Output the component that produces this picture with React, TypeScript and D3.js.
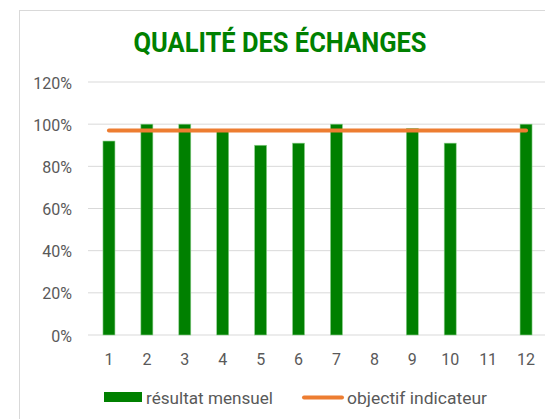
import React from "react";
import * as d3 from "d3";

const months = ["1", "2", "3", "4", "5", "6", "7", "8", "9", "10", "11", "12"];
const monthly: (number | null)[] = [0.92, 1.0, 1.0, 0.97, 0.9, 0.91, 1.0, null, 0.98, 0.91, null, 1.0];
const target: number[] = [0.97, 0.97, 0.97, 0.97, 0.97, 0.97, 0.97, 0.97, 0.97, 0.97, 0.97, 0.97];
const yTicks = [0, 0.2, 0.4, 0.6, 0.8, 1.0, 1.2];
const title = "QUALITÉ DES ÉCHANGES";
const seriesNames = ["résultat mensuel", "objectif indicateur"];

const W = 545;
const H = 419;

export default function App() {
  const x = d3.scaleBand<string>().domain(months).range([90, 545]).paddingInner(0).paddingOuter(0);
  const y = d3.scaleLinear().domain([0, 1.2]).range([335, 82]);
  const barW = 12;
  const font = "Roboto, 'Noto Sans', sans-serif";
  const gray = "#595959";
  const line = d3
    .line<number>()
    .x((_, i) => (x(months[i]) as number) + x.bandwidth() / 2)
    .y((d) => y(d));

  return (
    <svg width={W} height={H} style={{ position: "absolute", left: 0, top: 0, display: "block" }}>
      <rect x={0} y={0} width={W} height={H} fill="#fff" />
      <rect x={19.5} y={10.5} width={W + 10} height={H + 10} fill="#fff" stroke="#d9d9d9" strokeWidth={1} />
      <text
        x={280}
        y={52}
        textAnchor="middle"
        fontFamily={font}
        fontWeight={700}
        fontSize={27}
        fill="#008000"
        textLength={293}
        lengthAdjust="spacingAndGlyphs"
      >
        {title}
      </text>
      {yTicks.map((t) => (
        <g key={t}>
          <line x1={88} x2={W} y1={y(t)} y2={y(t)} stroke="#d9d9d9" strokeWidth={1} />
          <text x={72} y={y(t) + 6.5} textAnchor="end" fontFamily={font} fontSize={16} fill={gray}>
            {d3.format(".0%")(t)}
          </text>
        </g>
      ))}
      {monthly.map((v, i) =>
        v == null ? null : (
          <rect
            key={i}
            x={(x(months[i]) as number) + x.bandwidth() / 2 - barW / 2}
            y={y(v)}
            width={barW}
            height={y(0) - y(v)}
            fill="#008000"
            stroke="#8fd18f"
            strokeWidth={0.6}
          />
        )
      )}
      <path d={line(target) || ""} fill="none" stroke="#ED7D31" strokeWidth={4} strokeLinecap="round" />
      {months.map((m) => (
        <text
          key={m}
          x={(x(m) as number) + x.bandwidth() / 2}
          y={365}
          textAnchor="middle"
          fontFamily={font}
          fontSize={16}
          fill={gray}
        >
          {m}
        </text>
      ))}
      <rect x={104} y={392} width={38} height={10} fill="#008000" />
      <text x={146} y={404} fontFamily={font} fontSize={16.5} fill={gray} textLength={127} lengthAdjust="spacingAndGlyphs">
        {seriesNames[0]}
      </text>
      <line x1={304} x2={342} y1={397.5} y2={397.5} stroke="#ED7D31" strokeWidth={4} strokeLinecap="round" />
      <text x={347} y={404} fontFamily={font} fontSize={16.5} fill={gray} textLength={140} lengthAdjust="spacingAndGlyphs">
        {seriesNames[1]}
      </text>
    </svg>
  );
}
